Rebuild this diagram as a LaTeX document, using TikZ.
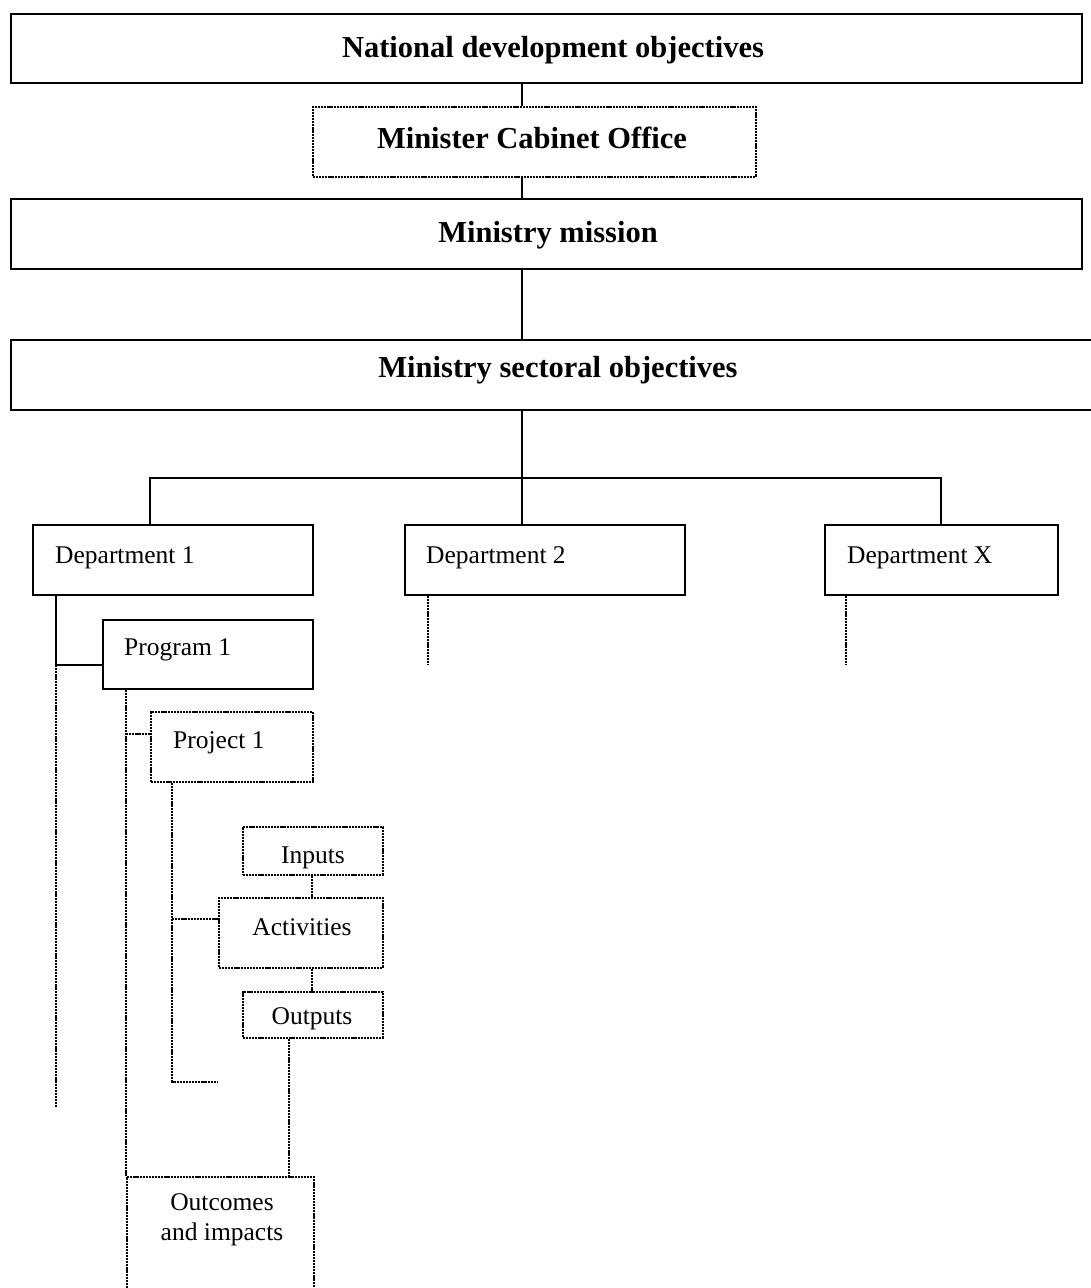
\documentclass[tikz,border=0pt]{standalone}
\usepackage{fontspec}
\setmainfont{Liberation Serif}
\begin{document}
\begin{tikzpicture}[x=1pt,y=-1pt,
  solidbox/.style={draw, line width=1.8pt, rectangle, inner sep=0pt, anchor=north west},
  dotbox/.style={draw, line width=1.7pt, dash pattern=on 2.2pt off 0.9pt, rectangle, inner sep=0pt, anchor=north west},
  solidline/.style={line width=1.8pt},
  dotline/.style={line width=1.7pt, dash pattern=on 2.2pt off 0.9pt},
  head/.style={font=\fontsize{30.5}{34}\selectfont\bfseries, inner sep=0pt, anchor=base},
  lbl/.style={font=\fontsize{25.5}{30}\selectfont, inner sep=0pt, anchor=base west},
  clbl/.style={font=\fontsize{25.5}{30}\selectfont, inner sep=0pt, anchor=base}]
\useasboundingbox (0,0) rectangle (1091,1288);

% boxes
\node[solidbox, minimum width=1071pt, minimum height=69pt] (nat) at (10,13) {};
\node[dotbox, minimum width=443pt, minimum height=70pt] (min) at (312,106) {};
\node[solidbox, minimum width=1071pt, minimum height=70pt] (mis) at (10,198) {};
\node[solidbox, minimum width=1100pt, minimum height=70pt] (sec) at (10,339) {};
\node[solidbox, minimum width=280pt, minimum height=70pt] (d1) at (32,524) {};
\node[solidbox, minimum width=280pt, minimum height=70pt] (d2) at (404,524) {};
\node[solidbox, minimum width=233pt, minimum height=70pt] (dx) at (824,524) {};
\node[solidbox, minimum width=210pt, minimum height=69pt] (prog) at (102,619) {};
\node[dotbox, minimum width=162pt, minimum height=70pt] (proj) at (150,711) {};
\node[dotbox, minimum width=140pt, minimum height=48pt] (inp) at (242,826) {};
\node[dotbox, minimum width=164pt, minimum height=70pt] (act) at (218,897) {};
\node[dotbox, minimum width=140pt, minimum height=46pt] (outp) at (242,991) {};
\node[dotbox, minimum width=187pt, minimum height=140pt] (outc) at (126,1176) {};

% texts
\node[head] (natt) at (553,57) {National development objectives};
\node[head] (mint) at (532,148) {Minister Cabinet Office};
\node[head] (mist) at (548,242) {Ministry mission};
\node[head] (sect) at (558,377) {Ministry sectoral objectives};
\node[lbl] (d1t) at (55,563) {Department 1};
\node[lbl] (d2t) at (426,563) {Department 2};
\node[lbl] (dxt) at (847,563) {Department X};
\node[lbl] (progt) at (124,655) {Program 1};
\node[lbl] (projt) at (173,748) {Project 1};
\node[clbl] (inpt) at (313,863) {Inputs};
\node[clbl] (actt) at (302,935) {Activities};
\node[clbl] (outpt) at (312,1024) {Outputs};
\node[font=\fontsize{25.5}{30}\selectfont, inner sep=0pt, anchor=north, align=center] (outct) at (222,1193) {Outcomes\\and impacts};

% named coordinates
\coordinate (spine) at (522,0);
\coordinate (bus) at (0,478);
\coordinate (c1) at (150,0);
\coordinate (c3) at (941,0);
\coordinate (j1) at (56,665);
\coordinate (e1) at (56,1107);
\coordinate (d2e) at (428,665);
\coordinate (dxe) at (846,665);
\coordinate (c2) at (126,0);
\coordinate (j2) at (126,734);
\coordinate (c5) at (172,0);
\coordinate (j3) at (172,1082);
\coordinate (e3) at (218,1082);
\coordinate (j4) at (172,919);
\coordinate (c4) at (312,0);
\coordinate (c6) at (289,0);

% upper connectors
\draw[solidline] (spine |- nat.south) -- (spine |- min.north);
\draw[solidline] (spine |- min.south) -- (spine |- mis.north);
\draw[solidline] (spine |- mis.south) -- (spine |- sec.north);
\draw[solidline] (spine |- sec.south) -- (spine |- bus);
\draw[solidline] (c1 |- d1.north) -- (c1 |- bus) -- (c3 |- bus) -- (c3 |- dx.north);
\draw[solidline] (spine |- bus) -- (spine |- d2.north);

% department 1 branch
\draw[solidline] (j1 |- d1.south) -- (j1) -- (j1 -| prog.west);
\draw[dotline] (j1) -- (e1);
\draw[dotline] (d2e |- d2.south) -- (d2e);
\draw[dotline] (dxe |- dx.south) -- (dxe);

% program branch
\draw[dotline] (c2 |- prog.south) -- (c2 |- outc.north);
\draw[dotline] (j2) -- (j2 -| proj.west);

% project branch
\draw[dotline] (c5 |- proj.south) -- (j3) -- (e3);
\draw[dotline] (j4) -- (j4 -| act.west);
\draw[dotline] (c4 |- inp.south) -- (c4 |- act.north);
\draw[dotline] (c4 |- act.south) -- (c4 |- outp.north);
\draw[dotline] (c6 |- outp.south) -- (c6 |- outc.north);
\end{tikzpicture}
\end{document}
